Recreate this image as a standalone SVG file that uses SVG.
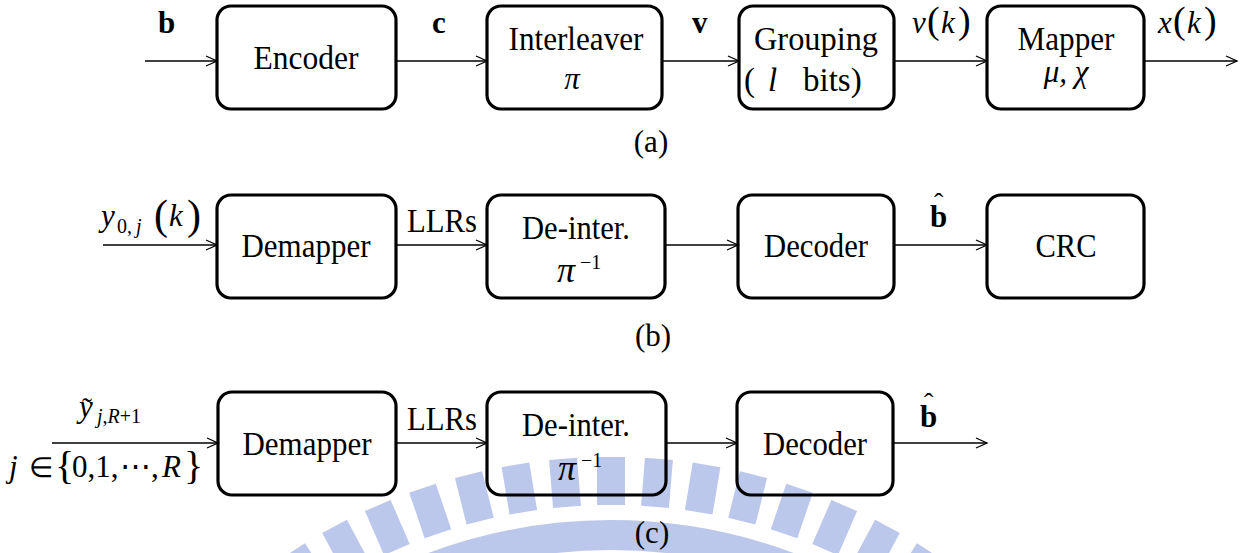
<svg xmlns="http://www.w3.org/2000/svg" width="1252" height="553" viewBox="0 0 1252 553">
<defs>
<marker id="ah" markerUnits="userSpaceOnUse" markerWidth="14" markerHeight="14" refX="12" refY="6" orient="auto">
<path d="M1,1 L12,6 L1,11" fill="none" stroke="#000" stroke-width="1.3"/>
</marker>
</defs>
<style>
.box{fill:none;stroke:#000;stroke-width:3.2}
.t{font-family:"Liberation Serif","Times New Roman",serif;font-size:31px;fill:#000}
.L{font-size:33px}
.c{text-anchor:middle}
.i{font-style:italic}
.b{font-weight:bold}
.n{font-weight:normal}
.cn{stroke:#000;stroke-width:1.3;fill:none;marker-end:url(#ah)}
.wm{fill:#bcc7ec}
</style>
<rect width="1252" height="553" fill="#fff"/>
<g id="watermark">
<rect class="wm" x="597" y="457" width="28" height="48" transform="rotate(-32.9 611 1042)"/>
<rect class="wm" x="597" y="457" width="28" height="48" transform="rotate(-28.2 611 1042)"/>
<rect class="wm" x="597" y="457" width="28" height="48" transform="rotate(-23.5 611 1042)"/>
<rect class="wm" x="597" y="457" width="28" height="48" transform="rotate(-18.8 611 1042)"/>
<rect class="wm" x="597" y="457" width="28" height="48" transform="rotate(-14.1 611 1042)"/>
<rect class="wm" x="597" y="457" width="28" height="48" transform="rotate(-9.4 611 1042)"/>
<rect class="wm" x="597" y="457" width="28" height="48" transform="rotate(-4.7 611 1042)"/>
<rect class="wm" x="597" y="457" width="28" height="48"/>
<rect class="wm" x="597" y="457" width="28" height="48" transform="rotate(4.7 611 1042)"/>
<rect class="wm" x="597" y="457" width="28" height="48" transform="rotate(9.4 611 1042)"/>
<rect class="wm" x="597" y="457" width="28" height="48" transform="rotate(14.1 611 1042)"/>
<rect class="wm" x="597" y="457" width="28" height="48" transform="rotate(18.8 611 1042)"/>
<rect class="wm" x="597" y="457" width="28" height="48" transform="rotate(23.5 611 1042)"/>
<rect class="wm" x="597" y="457" width="28" height="48" transform="rotate(28.2 611 1042)"/>
<rect class="wm" x="597" y="457" width="28" height="48" transform="rotate(32.9 611 1042)"/>
<path d="M104,1042 A507,507 0 0 1 1118,1042" fill="none" stroke="#bcc7ec" stroke-width="30"/>
</g>
<g id="connectors">
<line class="cn" x1="145" y1="61" x2="217" y2="61"/>
<line class="cn" x1="396" y1="61" x2="487" y2="61"/>
<line class="cn" x1="662" y1="61" x2="739" y2="61"/>
<line class="cn" x1="894" y1="61" x2="987" y2="61"/>
<line class="cn" x1="1144" y1="61" x2="1237" y2="61"/>
<line class="cn" x1="103" y1="245" x2="217" y2="245"/>
<line class="cn" x1="396" y1="245" x2="487" y2="245"/>
<line class="cn" x1="665" y1="245" x2="738" y2="245"/>
<line class="cn" x1="894" y1="245" x2="987" y2="245"/>
<line class="cn" x1="52" y1="443" x2="218" y2="443"/>
<line class="cn" x1="396" y1="443" x2="487" y2="443"/>
<line class="cn" x1="666" y1="443" x2="737" y2="443"/>
<line class="cn" x1="893" y1="443" x2="987" y2="443"/>
</g>
<g id="labels">
<text class="t b" x="158" y="33" font-size="32">b</text>
<text class="t b" x="432" y="33" font-size="32">c</text>
<text class="t b" x="692" y="33" font-size="32">v</text>
<text class="t i" x="912" y="33" font-size="32">v<tspan x="927" font-style="normal" font-size="38">(</tspan><tspan x="941">k</tspan><tspan x="958" font-style="normal" font-size="38">)</tspan></text>
<text class="t i" x="1158" y="33" font-size="32">x<tspan x="1173" font-style="normal" font-size="38">(</tspan><tspan x="1187">k</tspan><tspan x="1204" font-style="normal" font-size="38">)</tspan></text>
<text class="t" x="101" y="226" font-size="32"><tspan class="i">y</tspan><tspan x="117" y="233" font-size="20">0,</tspan><tspan x="136" y="233" font-size="20" class="i">j</tspan><tspan x="154" y="229" font-size="42">(</tspan><tspan x="169" y="226" class="i">k</tspan><tspan x="187" y="229" font-size="42">)</tspan></text>
<text class="t L" x="407" y="232" textLength="70" lengthAdjust="spacingAndGlyphs">LLRs</text>
<text class="t b" x="930" y="227" font-size="32">b<tspan class="n" x="934" y="212" font-size="28">ˆ</tspan></text>
<text class="t" x="79" y="417" font-size="32"><tspan class="i">y</tspan><tspan x="82" y="418" font-size="30">˜</tspan><tspan x="97" y="423" font-size="20"><tspan class="i">j</tspan>,<tspan class="i">R</tspan>+1</tspan></text>
<text class="t" x="9" y="477" font-size="32"><tspan class="i">j</tspan><tspan x="29" font-size="28">∈</tspan><tspan x="55" y="479" font-size="40">{</tspan><tspan x="72" y="477">0,1,</tspan><tspan x="120">⋯</tspan><tspan x="151">,</tspan><tspan x="162" class="i">R</tspan><tspan x="184" y="479" font-size="40">}</tspan></text>
<text class="t L" x="407" y="430" textLength="70" lengthAdjust="spacingAndGlyphs">LLRs</text>
<text class="t b" x="920" y="427" font-size="32">b<tspan class="n" x="924" y="412" font-size="28">ˆ</tspan></text>
<text class="t c" x="651" y="152" font-size="29">(a)</text>
<text class="t c" x="653" y="346" font-size="29">(b)</text>
<text class="t c" x="652" y="543" font-size="29">(c)</text>
</g>
<g id="encoder">
<rect class="box" x="217" y="6" width="179" height="103" rx="14"/>
<text class="t c L" x="306" y="69" textLength="105" lengthAdjust="spacingAndGlyphs">Encoder</text>
</g>
<g id="interleaver">
<rect class="box" x="487" y="6" width="175" height="103" rx="14"/>
<text class="t c L" x="576" y="50" textLength="135" lengthAdjust="spacingAndGlyphs">Interleaver</text>
<text class="t c i" x="572" y="89" font-size="36">π</text>
</g>
<g id="grouping">
<rect class="box" x="739" y="6" width="155" height="103" rx="14"/>
<text class="t c L" x="816" y="50" textLength="124" lengthAdjust="spacingAndGlyphs">Grouping</text>
<text class="t L" x="744" y="91">(<tspan x="768" class="i">l</tspan><tspan x="803">bits)</tspan></text>
</g>
<g id="mapper">
<rect class="box" x="987" y="6" width="157" height="103" rx="14"/>
<text class="t c L" x="1066" y="50" textLength="97" lengthAdjust="spacingAndGlyphs">Mapper</text>
<text class="t c i" x="1066" y="82" font-size="38">μ, χ</text>
</g>
<g id="demapper-b">
<rect class="box" x="217" y="195" width="179" height="103" rx="14"/>
<text class="t c L" x="306" y="257" textLength="129" lengthAdjust="spacingAndGlyphs">Demapper</text>
</g>
<g id="deinter-b">
<rect class="box" x="487" y="195" width="178" height="103" rx="14"/>
<text class="t c L" x="576" y="239" textLength="108" lengthAdjust="spacingAndGlyphs">De-inter.</text>
<text class="t" x="557" y="282"><tspan class="i" font-size="36">π</tspan><tspan x="580" y="269" font-size="20">−1</tspan></text>
</g>
<g id="decoder-b">
<rect class="box" x="738" y="195" width="156" height="103" rx="14"/>
<text class="t c L" x="816" y="257" textLength="104" lengthAdjust="spacingAndGlyphs">Decoder</text>
</g>
<g id="crc">
<rect class="box" x="987" y="195" width="157" height="103" rx="14"/>
<text class="t c L" x="1066" y="257" textLength="61" lengthAdjust="spacingAndGlyphs">CRC</text>
</g>
<g id="demapper-c">
<rect class="box" x="218" y="392" width="178" height="103" rx="14"/>
<text class="t c L" x="307" y="455" textLength="129" lengthAdjust="spacingAndGlyphs">Demapper</text>
</g>
<g id="deinter-c">
<rect class="box" x="487" y="392" width="179" height="103" rx="14"/>
<text class="t c L" x="576" y="436" textLength="108" lengthAdjust="spacingAndGlyphs">De-inter.</text>
<text class="t" x="558" y="480"><tspan class="i" font-size="36">π</tspan><tspan x="581" y="467" font-size="20">−1</tspan></text>
</g>
<g id="decoder-c">
<rect class="box" x="737" y="392" width="156" height="103" rx="14"/>
<text class="t c L" x="815" y="455" textLength="104" lengthAdjust="spacingAndGlyphs">Decoder</text>
</g>
</svg>
